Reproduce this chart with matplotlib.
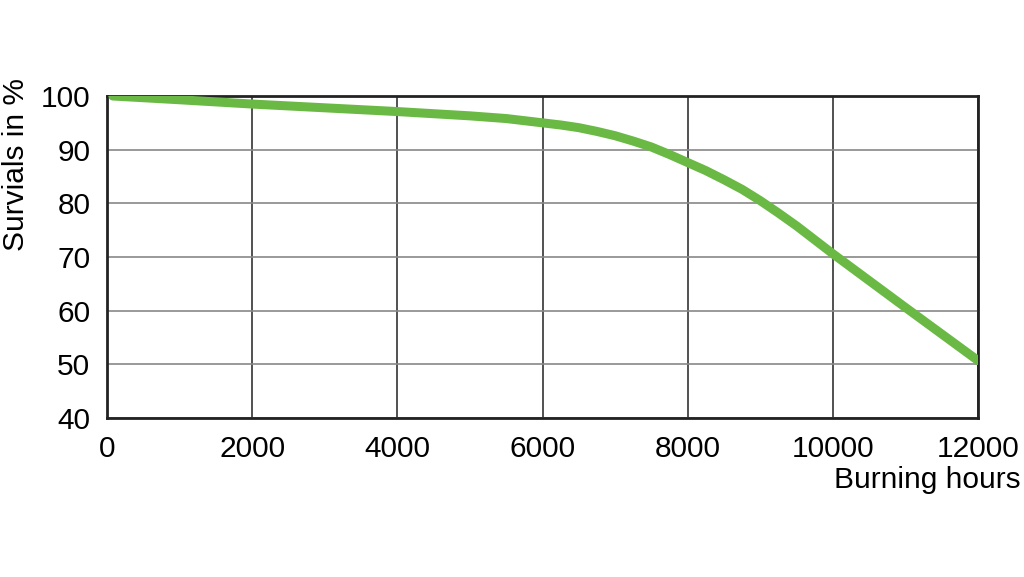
import numpy as np
import matplotlib.pyplot as plt

plt.rcParams['font.family'] = ['Liberation Sans', 'DejaVu Sans']

# survival curve
hours = [80, 1000, 2000, 3000, 4000, 5000, 5500, 6000, 6250, 6500, 6750, 7000, 7250, 7500, 7750,
         8000, 8250, 8500, 8750, 9000, 9250, 9500, 10000, 11000, 12000]
survivals = [100.0, 99.3, 98.5, 97.8, 97.1, 96.3, 95.8, 95.0, 94.6, 94.1, 93.4, 92.6, 91.6, 90.5, 89.1,
             87.6, 86.1, 84.4, 82.6, 80.5, 78.2, 75.8, 70.6, 60.6, 50.7]

xticks = [0, 2000, 4000, 6000, 8000, 10000, 12000]
yticks = [40, 50, 60, 70, 80, 90, 100]

fig = plt.figure(figsize=(10.24, 5.77), dpi=100)
ax = fig.add_axes([107/1024, 1-418/577, (978-107)/1024, (418-96)/577])

ax.plot(hours, survivals, color='#6ab945', lw=6.5, solid_capstyle='round',
        solid_joinstyle='round', zorder=3)

ax.set_xlim(0, 12000)
ax.set_ylim(40, 100)
ax.set_xticks(xticks)
ax.set_yticks(yticks)
ax.set_xticklabels([str(t) for t in xticks])
ax.tick_params(length=0, labelsize=21.5, pad=12)
ax.xaxis.grid(True, color='#333333', lw=1.2)
ax.yaxis.grid(True, color='#888888', lw=1.2)
ax.set_axisbelow(True)
for s in ax.spines.values():
    s.set_linewidth(2)
    s.set_color('#222222')

fig.text(1021/1024, 1-480/577, 'Burning hours', ha='right', va='center', fontsize=21.5)
fig.text(16/1024, 1-78/577, 'Survials in %', ha='center', va='top', rotation=90, fontsize=21.5)

plt.savefig('out.png', dpi=100)
